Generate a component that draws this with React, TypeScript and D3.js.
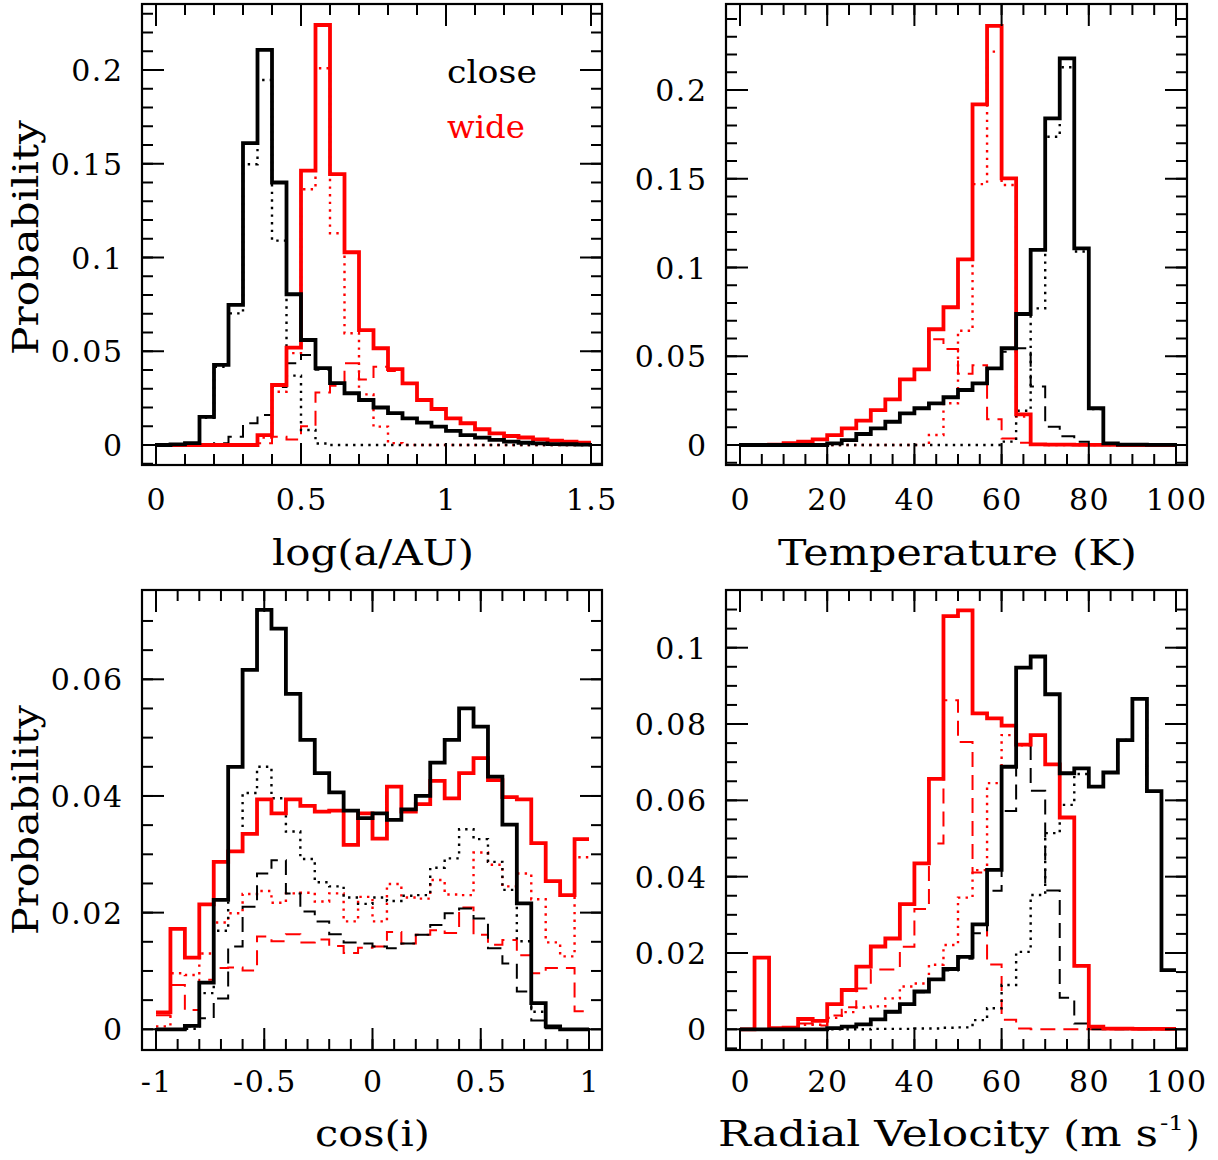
import React from 'react';
import * as d3 from 'd3';

// ---------- DATA (30 bins per panel) ----------
// Panel 1: log(a/AU), bins 0 .. 1.5
const logARange = [0, 1.5];
const logACloseAll = [0, 0.0003, 0.001, 0.015, 0.0427, 0.0747, 0.161, 0.2107, 0.14, 0.0804, 0.056, 0.041, 0.033, 0.0276, 0.024, 0.020, 0.017, 0.0142, 0.0119, 0.0098, 0.0075, 0.0053, 0.0039, 0.0027, 0.0018, 0.0012, 0.0009, 0.0005, 0.0004, 0.0002];
const logACloseDot = [0, 0.0003, 0.001, 0.0145, 0.0417, 0.0702, 0.1497, 0.1947, 0.109, 0.037, 0.008, 0.0008, 0, 0, 0, 0, 0, 0, 0, 0, 0, 0, 0, 0, 0, 0, 0, 0, 0, 0];
const logACloseDash = [0, 0, 0, 0.0005, 0.001, 0.0044, 0.0116, 0.016, 0.031, 0.0436, 0.048, 0.0402, 0.033, 0.0276, 0.024, 0.020, 0.017, 0.0142, 0.0119, 0.0098, 0.0075, 0.0053, 0.0039, 0.0027, 0.0018, 0.0012, 0.0009, 0.0005, 0.0004, 0.0002];
const logAWideAll = [0, 0, 0, 0, 0, 0, 0, 0.0053, 0.032, 0.0519, 0.1463, 0.224, 0.1445, 0.1028, 0.0613, 0.0516, 0.0405, 0.0329, 0.024, 0.0192, 0.0142, 0.0116, 0.0084, 0.0062, 0.0048, 0.004, 0.003, 0.0023, 0.0018, 0.0012];
const logAWideDot = [0, 0, 0, 0, 0, 0, 0, 0.004, 0.0284, 0.049, 0.1364, 0.2009, 0.1129, 0.0596, 0.027, 0.0098, 0.001, 0, 0, 0, 0, 0, 0, 0, 0, 0, 0, 0, 0, 0];
const logAWideDash = [0, 0, 0, 0, 0, 0, 0, 0.001, 0.0044, 0.003, 0.01, 0.028, 0.0316, 0.0436, 0.035, 0.0418, 0.0395, 0.0329, 0.024, 0.0192, 0.0142, 0.0116, 0.0084, 0.0062, 0.0048, 0.004, 0.003, 0.0023, 0.0018, 0.0012];

// Panel 2: Temperature (K), bins 0 .. 100
const tempRange = [0, 100];
const tempCloseAll = [0, 0, 0, 0, 0, 0, 0.0009, 0.0028, 0.0062, 0.0094, 0.0131, 0.0178, 0.0207, 0.0235, 0.0269, 0.031, 0.0347, 0.0432, 0.0545, 0.0738, 0.1099, 0.184, 0.2178, 0.1108, 0.0207, 0.0009, 0.0002, 0.0002, 0.0001, 0.0001];
const tempCloseDot = [0, 0, 0, 0, 0, 0, 0, 0, 0, 0, 0, 0, 0, 0, 0, 0, 0, 0, 0.0019, 0.0193, 0.077, 0.1737, 0.2128, 0.109, 0.0202, 0.0009, 0.0002, 0.0002, 0.0001, 0.0001];
const tempCloseDash = [0, 0, 0, 0, 0, 0, 0.0009, 0.0028, 0.0062, 0.0094, 0.0131, 0.0178, 0.0207, 0.0235, 0.0269, 0.031, 0.0347, 0.0432, 0.0526, 0.0545, 0.0329, 0.0103, 0.005, 0.0018, 0.0005, 0, 0, 0, 0, 0];
const tempWideAll = [0, 0.0001, 0.0002, 0.001, 0.0019, 0.0032, 0.0056, 0.0094, 0.0137, 0.0197, 0.0257, 0.037, 0.0426, 0.0652, 0.0776, 0.1046, 0.1919, 0.2361, 0.1502, 0.0173, 0.0004, 0.0002, 0.0002, 0.0001, 0.0001, 0.0001, 0, 0, 0, 0];
const tempWideDot = [0, 0, 0, 0, 0, 0, 0, 0, 0, 0, 0, 0, 0, 0.0056, 0.0235, 0.0644, 0.147, 0.2216, 0.1465, 0.016, 0.0002, 0, 0, 0, 0, 0, 0, 0, 0, 0];
const tempWideDash = [0, 0.0001, 0.0002, 0.001, 0.0019, 0.0032, 0.0056, 0.0094, 0.0137, 0.0197, 0.0257, 0.037, 0.0426, 0.0596, 0.0541, 0.0402, 0.0449, 0.0145, 0.0037, 0.0013, 0.0002, 0.0002, 0.0002, 0.0001, 0.0001, 0.0001, 0, 0, 0, 0];

// Panel 3: cos(i), bins -1 .. 1
const cosRange = [-1, 1];
const cosCloseAll = [0, 0, 0.0006, 0.008, 0.0222, 0.045, 0.0616, 0.0719, 0.0687, 0.0575, 0.0496, 0.0439, 0.0406, 0.0375, 0.0362, 0.037, 0.0359, 0.0377, 0.04, 0.0457, 0.0496, 0.055, 0.0519, 0.0433, 0.0351, 0.0216, 0.0045, 0.0005, 0, 0];
const cosCloseDot = [0, 0, 0.0001, 0.0062, 0.0169, 0.0305, 0.0405, 0.045, 0.0396, 0.0339, 0.0292, 0.0252, 0.0245, 0.0226, 0.0215, 0.0226, 0.022, 0.0229, 0.023, 0.0277, 0.0293, 0.0343, 0.0326, 0.0287, 0.0239, 0.0151, 0.003, 0.0003, 0, 0];
const cosCloseDash = [0, 0, 0.0005, 0.0019, 0.0053, 0.0142, 0.021, 0.0267, 0.029, 0.0233, 0.0202, 0.0185, 0.0163, 0.0149, 0.0147, 0.0142, 0.0139, 0.0147, 0.0162, 0.0179, 0.0199, 0.0207, 0.019, 0.0139, 0.0113, 0.0065, 0.0015, 0.0002, 0, 0];
const cosWideAll = [0.0029, 0.0172, 0.0123, 0.0214, 0.0287, 0.0305, 0.0335, 0.0394, 0.037, 0.0394, 0.0383, 0.0373, 0.0375, 0.0316, 0.037, 0.0327, 0.0416, 0.0373, 0.0386, 0.0426, 0.0396, 0.0439, 0.0465, 0.0427, 0.0398, 0.0394, 0.0319, 0.0254, 0.023, 0.0326];
const cosWideDot = [0.0005, 0.0096, 0.0093, 0.013, 0.0183, 0.0199, 0.0232, 0.0237, 0.0217, 0.0233, 0.0234, 0.0219, 0.0233, 0.0185, 0.0227, 0.0185, 0.0249, 0.0226, 0.0224, 0.0256, 0.0231, 0.023, 0.0303, 0.0282, 0.0245, 0.0267, 0.0223, 0.0149, 0.0125, 0.0295];
const cosWideDash = [0.0024, 0.0076, 0.0033, 0.0085, 0.0105, 0.0106, 0.0101, 0.0159, 0.0151, 0.0163, 0.0149, 0.0154, 0.0143, 0.0131, 0.014, 0.0142, 0.0167, 0.0147, 0.0162, 0.017, 0.0165, 0.0209, 0.0162, 0.0145, 0.0153, 0.0127, 0.0096, 0.0105, 0.0105, 0.0031];

// Panel 4: Radial velocity (m/s), bins 0 .. 100
const rvRange = [0, 100];
const rvCloseAll = [0, 0, 0, 0, 0, 0, 0.0003, 0.0007, 0.0013, 0.0026, 0.0046, 0.0066, 0.0099, 0.0131, 0.0158, 0.019, 0.0275, 0.0418, 0.0688, 0.0948, 0.0977, 0.0878, 0.0671, 0.0684, 0.0636, 0.0673, 0.0758, 0.0866, 0.0624, 0.0155];
const rvCloseDot = [0, 0, 0, 0, 0, 0, 0, 0, 0, 0.0001, 0.0001, 0.0001, 0.0002, 0.0002, 0.0004, 0.0005, 0.0024, 0.0055, 0.0116, 0.0203, 0.0352, 0.0514, 0.0588, 0.0669, 0.0636, 0.0673, 0.0758, 0.0866, 0.0624, 0.0155];
const rvCloseDash = [0, 0, 0, 0, 0, 0, 0.0003, 0.0007, 0.0013, 0.0025, 0.0045, 0.0065, 0.0097, 0.0129, 0.0154, 0.0185, 0.0252, 0.0363, 0.0572, 0.0745, 0.0625, 0.0364, 0.0083, 0.0015, 0, 0, 0, 0, 0, 0];
const rvWideAll = [0, 0.0188, 0.0003, 0.0004, 0.0027, 0.0022, 0.0066, 0.0103, 0.0164, 0.0217, 0.0238, 0.0328, 0.0435, 0.0656, 0.1083, 0.1098, 0.0828, 0.0815, 0.0796, 0.0746, 0.0771, 0.0694, 0.0555, 0.0166, 0.0007, 0.0002, 0.0002, 0.0001, 0.0001, 0.0001];
const rvWideDot = [0, 0, 0.0001, 0.0002, 0.0012, 0.0012, 0.003, 0.0045, 0.0057, 0.006, 0.0081, 0.0112, 0.012, 0.0169, 0.0221, 0.0345, 0.0417, 0.0645, 0.0771, 0.0744, 0.0771, 0.0694, 0.0555, 0.0166, 0.0007, 0.0002, 0.0002, 0.0001, 0.0001, 0.0001];
const rvWideDash = [0, 0.0188, 0.0002, 0.0002, 0.0015, 0.001, 0.0036, 0.0058, 0.0107, 0.0157, 0.0157, 0.0216, 0.0315, 0.0487, 0.0862, 0.0753, 0.0411, 0.017, 0.0025, 0.0002, 0, 0, 0, 0, 0, 0, 0, 0, 0, 0];

// Tick values / labels
const logAXTicks = [0, 0.5, 1, 1.5];
const logAXLabels = ['0', '0.5', '1', '1.5'];
const tempXTicks = [0, 20, 40, 60, 80, 100];
const tempXLabels = ['0', '20', '40', '60', '80', '100'];
const cosXTicks = [-1, -0.5, 0, 0.5, 1];
const cosXLabels = ['-1', '-0.5', '0', '0.5', '1'];
const topYTicks = [0, 0.05, 0.1, 0.15, 0.2];
const topYLabels = ['0', '0.05', '0.1', '0.15', '0.2'];
const cosYTicks = [0, 0.02, 0.04, 0.06];
const cosYLabels = ['0', '0.02', '0.04', '0.06'];
const rvYTicks = [0, 0.02, 0.04, 0.06, 0.08, 0.1];
const rvYLabels = ['0', '0.02', '0.04', '0.06', '0.08', '0.1'];

const legendLabels = ['close', 'wide'];
const colors = { close: '#000000', wide: '#ff0000' };

const FONT = '"DejaVu Serif", serif';

type Frame = { l: number; r: number; t: number; b: number };
type SeriesDef = { values: number[]; color: string; style: 'solid' | 'dot' | 'dash' };

type PanelProps = {
  frame: Frame;
  x: d3.ScaleLinear<number, number>;
  y: d3.ScaleLinear<number, number>;
  range: number[];
  series: SeriesDef[];
  xTicks: number[];
  xLabels: string[];
  xMinorStep: number;
  yTicks: number[];
  yLabels: string[];
  yMinorStep: number;
  xLabelBaseline: number;
};

function minorValues(lo: number, hi: number, step: number) {
  const out: number[] = [];
  const n0 = Math.floor(lo / step) - 1;
  const n1 = Math.ceil(hi / step) + 1;
  for (let k = n0; k <= n1; k++) out.push(+(k * step).toFixed(6));
  return out;
}

function Panel(p: PanelProps) {
  const { frame, x, y } = p;
  const MAJ = 22;
  const MIN = 11;
  const xlo = x.invert(frame.l), xhi = x.invert(frame.r);
  const ylo = y.invert(frame.b), yhi = y.invert(frame.t);
  const xMinor = minorValues(xlo, xhi, p.xMinorStep).filter((v) => x(v) > frame.l + 2 && x(v) < frame.r - 2);
  const yMinor = minorValues(ylo, yhi, p.yMinorStep).filter((v) => y(v) < frame.b - 1 && y(v) > frame.t + 3);

  const line = d3
    .line<[number, number]>()
    .x((d) => x(d[0]))
    .y((d) => y(d[1]))
    .curve(d3.curveStepAfter);

  const pathFor = (vals: number[]) => {
    const n = vals.length;
    const w = (p.range[1] - p.range[0]) / n;
    const pts: [number, number][] = vals.map((v, i) => [p.range[0] + i * w, v]);
    pts.push([p.range[1], vals[n - 1]]);
    return line(pts) || '';
  };

  const styleOf = (s: SeriesDef) => {
    if (s.style === 'solid') return { strokeWidth: 3.8, dash: undefined };
    if (s.style === 'dash') return { strokeWidth: 2, dash: '15 8' };
    return { strokeWidth: 2.4, dash: '2.4 5.2' };
  };

  const tk = { stroke: '#000', strokeWidth: 2 };

  return (
    <g>
      {p.series.map((s, i) => {
        const st = styleOf(s);
        return (
          <path
            key={'s' + i}
            d={pathFor(s.values)}
            fill="none"
            stroke={s.color}
            strokeWidth={st.strokeWidth}
            strokeDasharray={st.dash}
            strokeLinejoin="miter"
            strokeLinecap="butt"
          />
        );
      })}
      {xMinor.map((v, i) => (
        <g key={'xm' + i}>
          <line x1={x(v)} x2={x(v)} y1={frame.b} y2={frame.b - MIN} {...tk} />
          <line x1={x(v)} x2={x(v)} y1={frame.t} y2={frame.t + MIN} {...tk} />
        </g>
      ))}
      {p.xTicks.map((v, i) => (
        <g key={'xM' + i}>
          <line x1={x(v)} x2={x(v)} y1={frame.b} y2={frame.b - MAJ} {...tk} />
          <line x1={x(v)} x2={x(v)} y1={frame.t} y2={frame.t + MAJ} {...tk} />
          <text
            x={x(v) + 0.75}
            y={p.xLabelBaseline}
            textAnchor="middle"
            fontFamily={FONT}
            fontSize={30}
            letterSpacing={1.5}
            fill="#000"
          >
            {p.xLabels[i]}
          </text>
        </g>
      ))}
      {yMinor.map((v, i) => (
        <g key={'ym' + i}>
          <line x1={frame.l} x2={frame.l + MIN} y1={y(v)} y2={y(v)} {...tk} />
          <line x1={frame.r} x2={frame.r - MIN} y1={y(v)} y2={y(v)} {...tk} />
        </g>
      ))}
      {p.yTicks.map((v, i) => (
        <g key={'yM' + i}>
          <line x1={frame.l} x2={frame.l + MAJ} y1={y(v)} y2={y(v)} {...tk} />
          <line x1={frame.r} x2={frame.r - MAJ} y1={y(v)} y2={y(v)} {...tk} />
          <text
            x={frame.l - 18.5}
            y={y(v) + 11}
            textAnchor="end"
            fontFamily={FONT}
            fontSize={30}
            letterSpacing={1.5}
            fill="#000"
          >
            {p.yLabels[i]}
          </text>
        </g>
      ))}
      <rect
        x={frame.l}
        y={frame.t}
        width={frame.r - frame.l}
        height={frame.b - frame.t}
        fill="none"
        stroke="#000"
        strokeWidth={2.2}
      />
    </g>
  );
}

function seriesSet(closeAll: number[], closeDot: number[], closeDash: number[], wideAll: number[], wideDot: number[], wideDash: number[]): SeriesDef[] {
  return [
    { values: wideDash, color: colors.wide, style: 'dash' },
    { values: wideDot, color: colors.wide, style: 'dot' },
    { values: closeDash, color: colors.close, style: 'dash' },
    { values: closeDot, color: colors.close, style: 'dot' },
    { values: wideAll, color: colors.wide, style: 'solid' },
    { values: closeAll, color: colors.close, style: 'solid' },
  ];
}

export default function App() {
  const f1: Frame = { l: 142, r: 602, t: 4, b: 465 };
  const f2: Frame = { l: 726, r: 1187, t: 4, b: 465 };
  const f3: Frame = { l: 142, r: 602, t: 590, b: 1050 };
  const f4: Frame = { l: 726, r: 1187, t: 590, b: 1050 };

  const x1 = d3.scaleLinear().domain([0, 1.5]).range([156, 591]);
  const y1 = d3.scaleLinear().domain([0, 0.2]).range([445, 70]);
  const x2 = d3.scaleLinear().domain([0, 100]).range([740, 1176]);
  const y2 = d3.scaleLinear().domain([0, 0.2]).range([445, 90]);
  const x3 = d3.scaleLinear().domain([-1, 1]).range([156, 589]);
  const y3 = d3.scaleLinear().domain([0, 0.06]).range([1029.3, 679.3]);
  const x4 = d3.scaleLinear().domain([0, 100]).range([740, 1176]);
  const y4 = d3.scaleLinear().domain([0, 0.1]).range([1029.3, 647.7]);

  const titleStyle = { fontFamily: FONT, fontSize: 35, fill: '#000' } as const;
  const stretch = 'spacingAndGlyphs';

  return (
    <div style={{ position: 'absolute', left: 0, top: 0, width: 1218, height: 1160, background: '#fff' }}>
      <svg width={1218} height={1160} viewBox="0 0 1218 1160" style={{ display: 'block' }}>
        <rect x={0} y={0} width={1218} height={1160} fill="#fff" />
        <Panel
          frame={f1}
          x={x1}
          y={y1}
          range={logARange}
          series={seriesSet(logACloseAll, logACloseDot, logACloseDash, logAWideAll, logAWideDot, logAWideDash)}
          xTicks={logAXTicks}
          xLabels={logAXLabels}
          xMinorStep={0.1}
          yTicks={topYTicks}
          yLabels={topYLabels}
          yMinorStep={0.01}
          xLabelBaseline={510}
        />
        <Panel
          frame={f2}
          x={x2}
          y={y2}
          range={tempRange}
          series={seriesSet(tempCloseAll, tempCloseDot, tempCloseDash, tempWideAll, tempWideDot, tempWideDash)}
          xTicks={tempXTicks}
          xLabels={tempXLabels}
          xMinorStep={5}
          yTicks={topYTicks}
          yLabels={topYLabels}
          yMinorStep={0.01}
          xLabelBaseline={510}
        />
        <Panel
          frame={f3}
          x={x3}
          y={y3}
          range={cosRange}
          series={seriesSet(cosCloseAll, cosCloseDot, cosCloseDash, cosWideAll, cosWideDot, cosWideDash)}
          xTicks={cosXTicks}
          xLabels={cosXLabels}
          xMinorStep={0.1}
          yTicks={cosYTicks}
          yLabels={cosYLabels}
          yMinorStep={0.005}
          xLabelBaseline={1092}
        />
        <Panel
          frame={f4}
          x={x4}
          y={y4}
          range={rvRange}
          series={seriesSet(rvCloseAll, rvCloseDot, rvCloseDash, rvWideAll, rvWideDot, rvWideDash)}
          xTicks={tempXTicks}
          xLabels={tempXLabels}
          xMinorStep={5}
          yTicks={rvYTicks}
          yLabels={rvYLabels}
          yMinorStep={0.005}
          xLabelBaseline={1092}
        />

        {/* Legend */}
        <text x={447} y={83} fontFamily={FONT} fontSize={31} fill={colors.close} textLength={90} lengthAdjust={stretch}>
          {legendLabels[0]}
        </text>
        <text x={447} y={138} fontFamily={FONT} fontSize={31} fill={colors.wide} textLength={78} lengthAdjust={stretch}>
          {legendLabels[1]}
        </text>

        {/* Axis titles */}
        <text x={272} y={565} {...titleStyle} textLength={202} lengthAdjust={stretch}>log(a/AU)</text>
        <text x={778} y={565} {...titleStyle} textLength={359} lengthAdjust={stretch}>Temperature (K)</text>
        <text x={315} y={1146} {...titleStyle} textLength={115} lengthAdjust={stretch}>cos(i)</text>
        <text x={718} y={1146} {...titleStyle} textLength={440} lengthAdjust={stretch}>Radial Velocity (m s</text>
        <text x={1160} y={1130} fontFamily={FONT} fontSize={21} fill="#000" textLength={24} lengthAdjust={stretch}>-1</text>
        <text x={1186} y={1146} {...titleStyle}>)</text>

        <text
          transform="translate(38,355) rotate(-90)"
          x={0}
          y={0}
          {...titleStyle}
          textLength={235}
          lengthAdjust={stretch}
        >
          Probability
        </text>
        <text
          transform="translate(38,935) rotate(-90)"
          x={0}
          y={0}
          {...titleStyle}
          textLength={230}
          lengthAdjust={stretch}
        >
          Probability
        </text>
      </svg>
    </div>
  );
}
